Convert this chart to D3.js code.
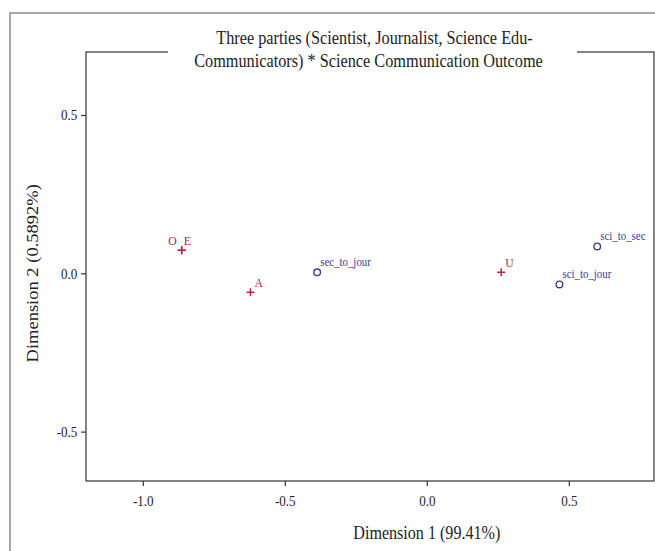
<!DOCTYPE html>
<html>
<head>
<meta charset="utf-8">
<script src="https://cdn.jsdelivr.net/npm/d3@7"></script>
<style>
  body { margin: 0; background: #fff; }
  svg { display: block; font-family: "Liberation Serif", "Times New Roman", serif; }
</style>
</head>
<body>
<div id="chart"></div>
<script>
// Row points (science communication outcome categories)
const rowLabels = ["O", "E", "A", "U"];
const rowDim1 = [-0.863, -0.863, -0.621, 0.262];
const rowDim2 = [0.073, 0.073, -0.060, 0.003];

// Column points (three parties)
const colLabels = ["sec_to_jour", "sci_to_jour", "sci_to_sec"];
const colDim1 = [-0.386, 0.467, 0.600];
const colDim2 = [0.003, -0.035, 0.085];

const xTicks = [-1.0, -0.5, 0.0, 0.5];
const yTicks = [-0.5, 0.0, 0.5];

const width = 655, height = 551;
const margin = { top: 52, right: 1, bottom: 70, left: 86 };
const innerWidth = width - margin.left - margin.right;
const innerHeight = height - margin.top - margin.bottom;
const squeeze = 0.87;   // the original text is horizontally condensed

const svgRoot = d3.select("#chart").append("svg")
    .attr("width", width)
    .attr("height", height);

// Outer frame (top and left edges visible)
svgRoot.append("path")
    .attr("d", `M10,${height} L10,13 L${width},13`)
    .attr("fill", "none")
    .attr("stroke", "#8a8a8a")
    .attr("stroke-width", 1.5);

const svg = svgRoot.append("g")
    .attr("transform", `translate(${margin.left},${margin.top})`);

const xScale = d3.scaleLinear().domain([-1.2, 0.8]).range([0, innerWidth]);
const yScale = d3.scaleLinear().domain([-0.656, 0.699]).range([innerHeight, 0]);

// Plot box
svg.append("rect")
    .attr("width", innerWidth)
    .attr("height", innerHeight)
    .attr("fill", "none")
    .attr("stroke", "#333")
    .attr("stroke-width", 1.2);

// Axes
const fmt = d => d3.format(".1f")(d).replace("\u2212", "-");
const xAxis = d3.axisBottom(xScale).tickValues(xTicks).tickFormat(fmt).tickSize(5).tickSizeOuter(0);
const yAxis = d3.axisLeft(yScale).tickValues(yTicks).tickFormat(fmt).tickSize(5).tickSizeOuter(0);

const xg = svg.append("g").attr("transform", `translate(0,${innerHeight})`).call(xAxis);
const yg = svg.append("g").call(yAxis);
[xg, yg].forEach(g => {
    g.select(".domain").remove();
    g.selectAll(".tick line").attr("stroke", "#333").attr("stroke-width", 1.2);
    g.selectAll(".tick text")
        .style("font-family", "'Liberation Serif', serif")
        .style("font-size", "15px")
        .style("fill", "#222")
        .attr("transform", `scale(${squeeze},1)`);
});
xg.selectAll(".tick text").attr("y", 14).attr("dy", "0.71em");
yg.selectAll(".tick text").attr("x", -10);

// Squeezed text helper
function addText(parent, x, y, str, size, color, anchor, rotate) {
    const tr = rotate ? `translate(${x},${y}) rotate(-90) scale(1,${squeeze})`
                      : `translate(${x},${y}) scale(${squeeze},1)`;
    return parent.append("text")
        .attr("transform", tr)
        .attr("text-anchor", anchor || "start")
        .style("font-size", size + "px")
        .style("fill", color)
        .text(str);
}

// Axis titles
addText(svg, xScale(0), innerHeight + 58, "Dimension 1 (99.41%)", 18.5, "#222", "middle");
addText(svg, -48, yScale(0), "Dimension 2 (0.5892%)", 18.5, "#222", "middle", true);

// Title with white background
svgRoot.append("rect")
    .attr("x", 168).attr("y", 24)
    .attr("width", 409).attr("height", 48)
    .attr("fill", "#fff");
const titleLines = ["Three parties (Scientist, Journalist, Science Edu-", "Communicators) * Science Communication Outcome"];
const titleX = [374.5, 368.5];
titleLines.forEach((t, i) => {
    addText(svgRoot, titleX[i], 44 + i * 23, t, 18.7, "#222", "middle");
});

const red = "#b3264a", blue = "#3b3b98";

// Row points: crosses
rowLabels.forEach((lab, i) => {
    const cx = xScale(rowDim1[i]), cy = yScale(rowDim2[i]);
    svg.append("path")
        .attr("d", `M${cx - 4},${cy} L${cx + 4},${cy} M${cx},${cy - 4} L${cx},${cy + 4}`)
        .attr("stroke", red)
        .attr("stroke-width", 1.5);
    let dx = 4, anchor = "start";
    if (lab === "O") { dx = -5; anchor = "end"; }
    if (lab === "E") { dx = 2; }
    addText(svg, cx + dx, cy - 5, lab, 13.5, red, anchor);
});

// Column points: open circles
colLabels.forEach((lab, i) => {
    const cx = xScale(colDim1[i]), cy = yScale(colDim2[i]);
    svg.append("circle")
        .attr("cx", cx).attr("cy", cy).attr("r", 3.3)
        .attr("fill", "none")
        .attr("stroke", blue)
        .attr("stroke-width", 1.4);
    addText(svg, cx + 3, cy - 6, lab, 12.5, blue, "start");
});
</script>
</body>
</html>
